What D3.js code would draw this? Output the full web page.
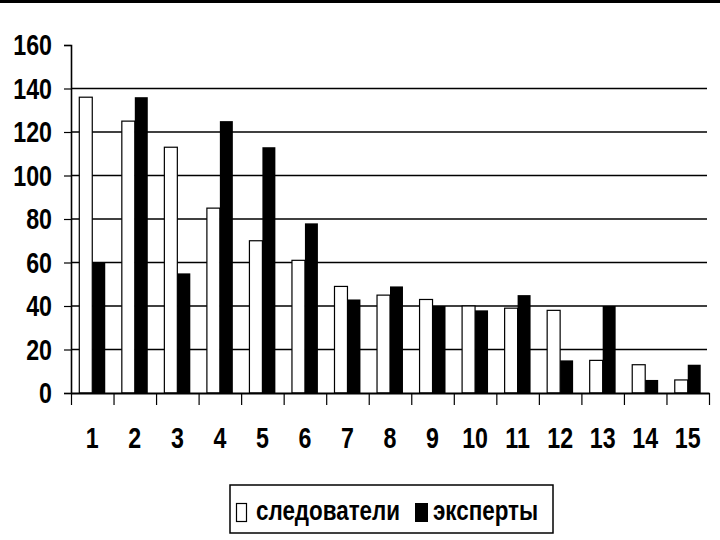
<!DOCTYPE html>
<html><head><meta charset="utf-8">
<script src="https://cdn.jsdelivr.net/npm/d3@7"></script>
<style>
html,body{margin:0;padding:0;background:#fff;}
text{font-family:"Liberation Sans",Arial,sans-serif;font-weight:bold;fill:#000;}
</style></head>
<body><svg id="c" width="720" height="540"></svg>
<script>
const categories = ["1","2","3","4","5","6","7","8","9","10","11","12","13","14","15"];
const investigators = [136,125,113,85,70,61,49,45,43,40,39,38,15,13,6];
const experts = [60,136,55,125,113,78,43,49,40,38,45,15,40,6,13];
const yTicks = [0,20,40,60,80,100,120,140,160];
const seriesNames = ["следователи","эксперты"];

(function(){
const svg = d3.select("#c");
const pL = 71, pR = 709, pT = 45, pB = 393;
const SX = 0.8;

svg.append("rect").attr("x",0).attr("y",0).attr("width",720).attr("height",3).attr("fill","#000");

const x = d3.scaleBand().domain(categories).range([pL,pR]).padding(0);
const xb = d3.scaleLinear().domain([0,categories.length]).range([pL,pR]);
const y = d3.scaleLinear().domain([0,160]).range([pB,pT]);

// gridlines
svg.append("g").selectAll("line").data(yTicks.filter(d=>d>0 && d<160)).join("line")
  .attr("x1",pL).attr("x2",707).attr("y1",d=>y(d)).attr("y2",d=>y(d))
  .attr("stroke","#000").attr("stroke-width",1.6);

// bars
const bw = x.bandwidth()*0.305, off = x.bandwidth()*0.195;
const g = svg.append("g");
g.selectAll("rect.inv").data(categories).join("rect").attr("class","inv")
  .attr("x",(d)=>x(d)+off).attr("width",bw)
  .attr("y",(d,i)=>y(investigators[i])).attr("height",(d,i)=>pB-y(investigators[i]))
  .attr("fill","#fff").attr("stroke","#000").attr("stroke-width",1.2);
g.selectAll("rect.exp").data(categories).join("rect").attr("class","exp")
  .attr("x",(d)=>x(d)+off+bw).attr("width",bw)
  .attr("y",(d,i)=>y(experts[i])).attr("height",(d,i)=>pB-y(experts[i]))
  .attr("fill","#000");

// y axis
const ya = svg.append("g").attr("transform",`translate(${pL},0)`)
  .call(d3.axisLeft(y).tickValues(yTicks).tickSize(7).tickFormat(""));
ya.select(".domain").attr("stroke","#000").attr("stroke-width",1.6);
ya.selectAll(".tick line").attr("stroke","#000").attr("stroke-width",1.2);
svg.append("g").selectAll("text").data(yTicks).join("text")
  .attr("transform",d=>`translate(52,${y(d)+10}) scale(${SX},1)`)
  .attr("text-anchor","end").attr("font-size",29).text(d=>d);

// x axis
const xa = svg.append("g").attr("transform",`translate(0,${pB})`)
  .call(d3.axisBottom(xb).tickValues(d3.range(0,categories.length+1)).tickSize(12).tickFormat("").tickSizeOuter(0));
xa.select(".domain").attr("stroke","#000").attr("stroke-width",2);
xa.selectAll(".tick line").attr("stroke","#000").attr("stroke-width",1.2);
svg.append("g").selectAll("text").data(categories).join("text")
  .attr("transform",d=>`translate(${x(d)+x.bandwidth()/2},448) scale(${SX},1)`)
  .attr("text-anchor","middle").attr("font-size",29).text(d=>d);

// legend
const lg = svg.append("g");
lg.append("rect").attr("x",230).attr("y",485).attr("width",323).attr("height",48)
  .attr("fill","#fff").attr("stroke","#000").attr("stroke-width",1.5);
lg.append("rect").attr("x",236.5).attr("y",503.5).attr("width",10).attr("height",18)
  .attr("fill","#fff").attr("stroke","#000").attr("stroke-width",1.2);
lg.append("text").attr("transform",`translate(256,520) scale(${SX},1)`).attr("font-size",28).text(seriesNames[0]);
lg.append("rect").attr("x",415).attr("y",503).attr("width",13).attr("height",19).attr("fill","#000");
lg.append("text").attr("transform",`translate(433,520) scale(${SX},1)`).attr("font-size",28).text(seriesNames[1]);
})();
</script></body></html>
